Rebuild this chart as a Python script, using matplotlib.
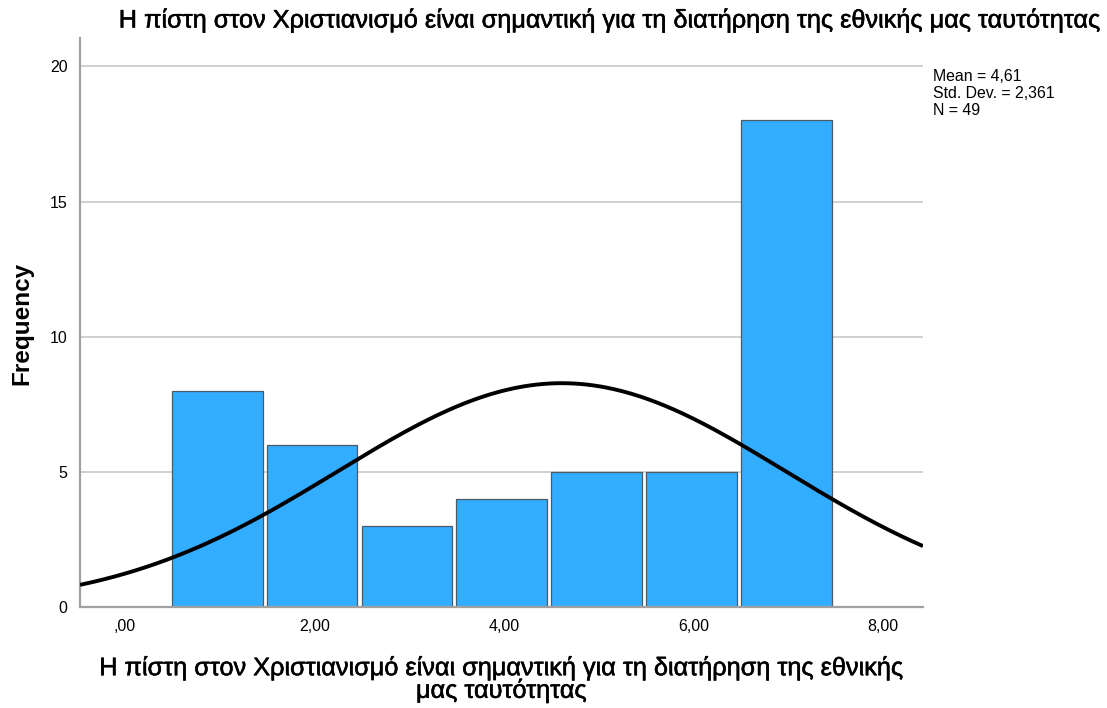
import numpy as np
import matplotlib.pyplot as plt
import matplotlib.patheffects as pe

plt.rcParams['font.family'] = ['Liberation Sans', 'DejaVu Sans']

# answer scale values and how many respondents chose each
values = [1, 2, 3, 4, 5, 6, 7]
counts = [8, 6, 3, 4, 5, 5, 18]
mean = 4.61
std_dev = 2.361
n = 49

x_ticks = [0, 2, 4, 6, 8]
x_tick_labels = [",00", "2,00", "4,00", "6,00", "8,00"]
y_ticks = [0, 5, 10, 15, 20]

title = "Η πίστη στον Χριστιανισμό είναι σημαντική για τη διατήρηση της εθνικής μας ταυτότητας"
xlabel = "Η πίστη στον Χριστιανισμό είναι σημαντική για τη διατήρηση της εθνικής\nμας ταυτότητας"


def main():
    fig = plt.figure(figsize=(11.07, 7.08), dpi=100)
    ax = fig.add_axes([0.0723, 0.1427, 0.7615, 0.8036])

    ax.bar([v - 0.5 for v in values], counts, width=0.955, align="edge",
           color="#33adff", edgecolor="#4a5a66", linewidth=0.9, zorder=2)

    # normal curve scaled to the histogram (bin width 1)
    xs = np.linspace(-0.47, 8.42, 400)
    pdf = np.exp(-0.5 * ((xs - mean) / std_dev) ** 2) / (std_dev * np.sqrt(2 * np.pi))
    ax.plot(xs, n * pdf, color="black", linewidth=2.8, zorder=3, solid_capstyle="butt")

    ax.set_xlim(-0.47, 8.42)
    ax.set_ylim(0, 21.05)
    ax.set_xticks(x_ticks)
    ax.set_xticklabels(x_tick_labels)
    ax.set_yticks(y_ticks)
    ax.tick_params(length=0, labelsize=11.5, colors="black", pad=9)
    ax.yaxis.grid(True, color="#c8c8c8", linewidth=1.2, zorder=0)
    ax.set_axisbelow(True)

    for side in ["top", "right"]:
        ax.spines[side].set_visible(False)
    for side in ["left", "bottom"]:
        ax.spines[side].set_color("#a0a0a0")
        ax.spines[side].set_linewidth(1.6)

    # slightly heavier strokes for the title and axis label
    heavy = [pe.withStroke(linewidth=0.4, foreground="black")]

    fig.text(22 / 1107, 1 - 323 / 708, "Frequency", fontsize=17.5, fontweight="bold",
             rotation=90, ha="center", va="center")
    fig.text(501 / 1107, 1 - 679 / 708, xlabel, fontsize=18.2, ha="center", va="center",
             linespacing=0.88, path_effects=heavy)

    fig.text(609 / 1107, 1 - 20 / 708, title, fontsize=18.2, ha="center", va="center",
             path_effects=heavy)

    stats = "Mean = 4,61\nStd. Dev. = 2,361\nN = 49"
    fig.text(933 / 1107, 1 - 69 / 708, stats, fontsize=11.4, ha="left", va="top",
             linespacing=1.15)

    fig.savefig("out.png", dpi=100)


if __name__ == "__main__":
    main()
